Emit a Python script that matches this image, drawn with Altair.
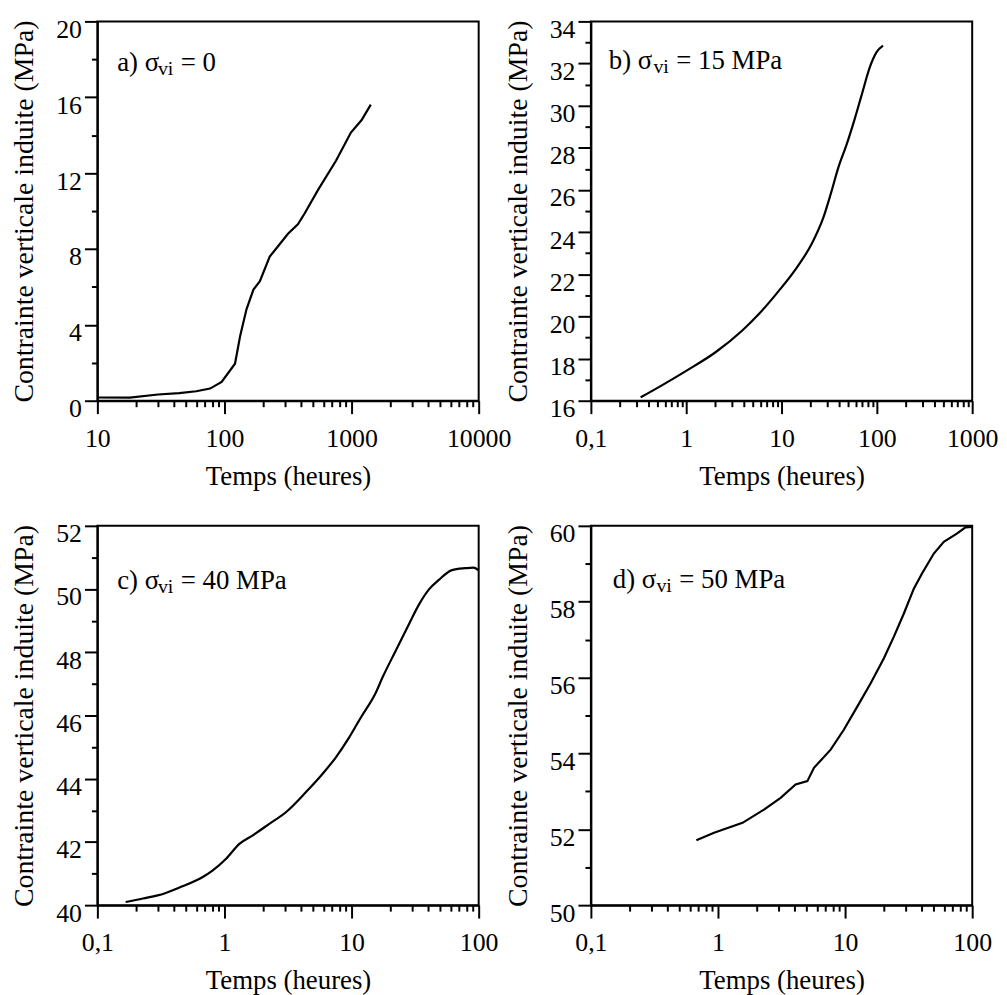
import altair as alt
import pandas as pd

FONT = "Liberation Serif"

# ---------------- data ----------------
# a) sigma_vi = 0
a_time = [10, 18, 30, 44, 60, 77, 95, 121, 133, 149, 169, 190, 227, 263, 316, 378,
          427, 542, 754, 988, 1200, 1416]
a_stress = [0.17, 0.16, 0.33, 0.40, 0.50, 0.64, 0.99, 1.95, 3.43, 4.82, 5.86, 6.3,
            7.6, 8.13, 8.8, 9.3, 9.87, 11.09, 12.65, 14.14, 14.8, 15.61]

# b) sigma_vi = 15 MPa
b_time = [0.333, 0.561, 1.02, 2.03, 3.85, 5.75, 9.31, 13.9, 20.8, 27.5, 33.6, 39.4,
          48.2, 58.9, 69.2, 84.6, 99.3, 116]
b_stress = [16.16, 16.74, 17.44, 18.3, 19.32, 20.1, 21.2, 22.21, 23.46, 24.7, 25.97,
            27.06, 28.16, 29.41, 30.5, 31.84, 32.54, 32.85]

# c) sigma_vi = 40 MPa
c_time = [0.167, 0.228, 0.337, 0.456, 0.675, 0.809, 1.03, 1.31, 1.67, 2.25, 3.04,
          4.36, 5.9, 7.5, 9.55, 11.8, 15.5, 17.5, 22.2, 28.2, 33.8, 40.5, 48.6, 61.7,
          78.7, 91.3, 100]
c_stress = [40.1, 40.21, 40.37, 40.58, 40.89, 41.1, 41.47, 41.94, 42.21, 42.57, 42.94,
            43.57, 44.15, 44.67, 45.3, 45.93, 46.72, 47.2, 48.04, 48.88, 49.5, 49.98,
            50.29, 50.6, 50.66, 50.68, 50.59]

# d) sigma_vi = 50 MPa
d_time = [0.676, 0.931, 1.56, 2.3, 3.11, 4.08, 5.05, 5.69, 7.7, 9.8, 12.5, 15.9, 20.2,
          24.2, 29, 34.8, 40.4, 49.9, 59.8, 76.2, 88.5, 100]
d_stress = [51.71, 51.91, 52.17, 52.52, 52.83, 53.18, 53.27, 53.62, 54.1, 54.63, 55.24,
            55.85, 56.51, 57.08, 57.69, 58.35, 58.75, 59.27, 59.58, 59.8, 59.96, 59.97]

# panel labels: (prefix with sigma, subscript, suffix)
labels = [("a) σ", "vi", "= 0"),
          ("b) σ", "vi", "= 15 MPa"),
          ("c) σ", "vi", "= 40 MPa"),
          ("d) σ", "vi", "= 50 MPa")]

# axes ticks
a_x_major = [10, 100, 1000, 10000]
b_x_major = [0.1, 1, 10, 100, 1000]
cd_x_major = [0.1, 1, 10, 100]
a_y_major = [0, 4, 8, 12, 16, 20]
a_y_minor = [2, 6, 10, 14, 18]
b_y_major = [16, 18, 20, 22, 24, 26, 28, 30, 32, 34]
b_y_minor = [17, 19, 21, 23, 25, 27, 29, 31, 33]
c_y_major = [40, 42, 44, 46, 48, 50, 52]
c_y_minor = [41, 43, 45, 47, 49, 51]
d_y_major = [50, 52, 54, 56, 58, 60]
d_y_minor = [51, 53, 55, 57, 59]

Y_TITLE = "Contrainte verticale induite (MPa)"
X_TITLE = "Temps (heures)"


def minor_log(major):
    return [m * d for d in major[:-1] for m in range(2, 10)]


def panel(times, stress, xdom, ydom, xmaj, ymaj, ymin, lab, tx, ty, w1, w2, interp):
    df = pd.DataFrame({"t": times, "v": stress})
    xs = alt.Scale(type="log", domain=xdom, nice=False)
    ys = alt.Scale(domain=ydom, nice=False, zero=False)

    major_x = alt.Axis(orient="bottom", values=xmaj, tickSize=13, labelPadding=12,
                       labelFlush=False, labelOverlap=False,
                       labelExpr="replace(toString(datum.value), '.', ',')",
                       title=X_TITLE, titlePadding=12,
                       labelFont=FONT, titleFont=FONT, labelFontSize=26,
                       titleFontSize=27, titleFontWeight="normal")
    minor_x = alt.Axis(orient="bottom", values=minor_log(xmaj), tickSize=6,
                       labels=False, domain=False, title=None)
    major_y = alt.Axis(orient="left", values=ymaj, tickSize=13, labelPadding=3,
                       labelOffset=8, labelFlush=False, labelOverlap=False,
                       title=Y_TITLE, titlePadding=17,
                       labelFont=FONT, titleFont=FONT, labelFontSize=26,
                       titleFontSize=28, titleFontWeight="normal")
    minor_y = alt.Axis(orient="left", values=ymin, tickSize=6, labels=False,
                       domain=False, title=None)

    line = alt.Chart(df).mark_line(color="black", strokeWidth=2.2,
                                   interpolate=interp).encode(
        x=alt.X("t:Q", scale=xs, axis=major_x),
        y=alt.Y("v:Q", scale=ys, axis=major_y),
    )
    ghost = alt.Chart(df).mark_line(strokeOpacity=0).encode(
        x=alt.X("t:Q", scale=xs, axis=minor_x),
        y=alt.Y("v:Q", scale=ys, axis=minor_y),
    )
    tdf = pd.DataFrame({"p": [lab[0]], "s": [lab[1]], "q": [lab[2]]})
    t1 = alt.Chart(tdf).mark_text(font=FONT, fontSize=27, align="left",
                                  baseline="alphabetic", color="black").encode(
        x=alt.value(tx), y=alt.value(ty), text="p:N")
    t2 = alt.Chart(tdf).mark_text(font=FONT, fontSize=20, align="left",
                                  baseline="alphabetic", color="black").encode(
        x=alt.value(tx + w1), y=alt.value(ty + 4), text="s:N")
    t3 = alt.Chart(tdf).mark_text(font=FONT, fontSize=27, align="left",
                                  baseline="alphabetic", color="black").encode(
        x=alt.value(tx + w1 + w2), y=alt.value(ty), text="q:N")
    return alt.layer(line, ghost, t1, t2, t3).resolve_axis(
        x="independent", y="independent").properties(width=384, height=382)


pa = panel(a_time, a_stress, [10, 10000], [0, 20], a_x_major, a_y_major, a_y_minor,
           labels[0], 20, 50, 41, 23, "linear")
pb = panel(b_time, b_stress, [0.1, 1000], [16, 34], b_x_major, b_y_major, b_y_minor,
           labels[1], 18, 48, 45, 23, "monotone")
pc = panel(c_time, c_stress, [0.1, 100], [40, 52], cd_x_major, c_y_major, c_y_minor,
           labels[2], 20, 64, 41, 23, "monotone")
pd_ = panel(d_time, d_stress, [0.1, 100], [50, 60], cd_x_major, d_y_major, d_y_minor,
            labels[3], 22, 63, 44, 23, "linear")

chart = alt.concat(pa, pb, pc, pd_, columns=2, spacing={"row": 126, "column": 113},
                   bounds="flush").properties(
    padding={"left": 2, "top": 4, "right": 0, "bottom": 0}
).configure_view(
    stroke="black", strokeWidth=2
).configure_axis(
    grid=False, domainColor="black", domainWidth=2, tickColor="black", tickWidth=2,
    labelColor="black", titleColor="black", labelFont=FONT, titleFont=FONT,
    labelFontSize=26, titleFontSize=27, titleFontWeight="normal"
).configure_text(font=FONT)

chart.save("out.html", embed_options={"renderer": "svg", "actions": False})
